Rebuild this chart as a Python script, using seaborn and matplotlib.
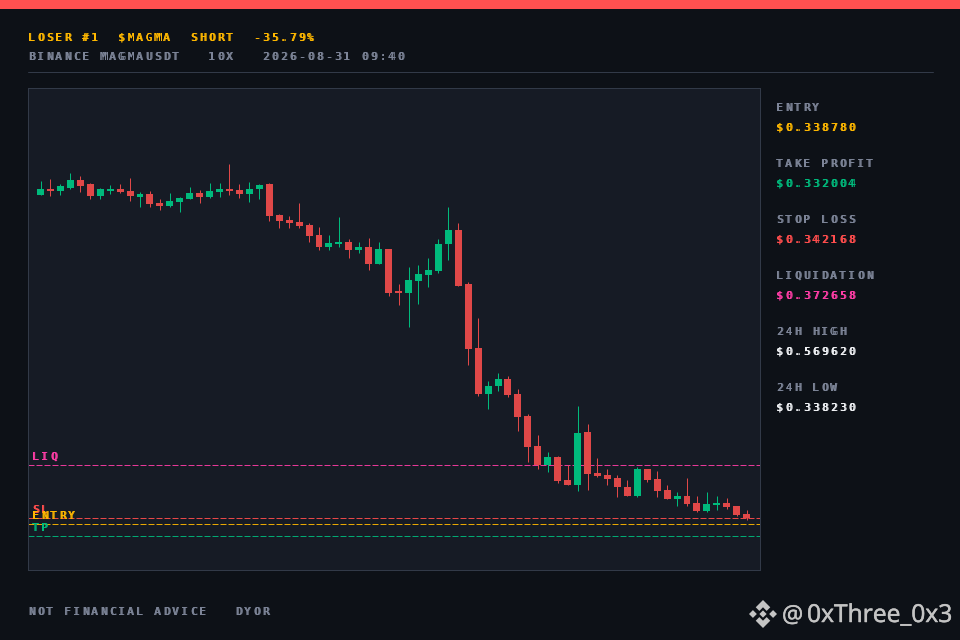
import matplotlib
matplotlib.use('Agg')
import matplotlib.pyplot as plt
import matplotlib.patheffects as pe
from matplotlib.lines import Line2D
from matplotlib.patches import Polygon, Rectangle
from matplotlib.text import Text
from matplotlib.transforms import Bbox, IdentityTransform, offset_copy
import pandas as pd
import seaborn as sns

opens = [.5279, .5314, .5302, .5319, .5365, .5342, .5273, .5302, .5314, .5302, .5268, .5285,
         .5233, .5216, .5239, .5256, .5291, .5268, .5296, .5314, .5308, .5285, .5314, .5342,
         .5164, .5136, .5124, .5107, .5050, .4981, .4998, .5009, .4964, .4981, .4883, .4969,
         .4728, .4717, .4785, .4820, .4843, .4998, .5078, .4768, .4401, .4137, .4183, .4223,
         .4137, .4011, .3838, .3729, .3775, .3643, .3614, .3919, .3683, .3672, .3655, .3603,
         .3551, .3706, .3649, .3586, .3534, .3551, .3511, .3465, .3500, .3511, .3494, .3448]
highs = [.5359, .5371, .5342, .5405, .5388, .5348, .5319, .5336, .5342, .5377, .5296, .5302,
         .5256, .5291, .5268, .5325, .5308, .5348, .5348, .5457, .5342, .5354, .5342, .5348,
         .5170, .5159, .5233, .5118, .5095, .5050, .5153, .5027, .5009, .5032, .5009, .4969,
         .4768, .4866, .4877, .4918, .5027, .5210, .5118, .4780, .4573, .4211, .4257, .4240,
         .4165, .4022, .3901, .3804, .3781, .3729, .4068, .3965, .3770, .3706, .3672, .3643,
         .3718, .3706, .3695, .3614, .3574, .3655, .3551, .3574, .3551, .3540, .3494, .3471]
lows = [.5279, .5273, .5279, .5314, .5296, .5256, .5256, .5285, .5291, .5245, .5210, .5210,
        .5193, .5210, .5182, .5256, .5233, .5262, .5268, .5279, .5262, .5239, .5256, .5130,
        .5090, .5090, .5090, .5009, .4964, .4964, .4981, .4918, .4946, .4849, .4883, .4699,
        .4648, .4522, .4653, .4751, .4831, .4906, .4757, .4303, .4125, .4051, .4154, .4120,
        .3925, .3747, .3706, .3689, .3626, .3614, .3580, .3586, .3660, .3614, .3546, .3551,
        .3546, .3632, .3546, .3534, .3494, .3494, .3460, .3460, .3471, .3477, .3437, .3414]
closes = [.5314, .5302, .5331, .5365, .5331, .5273, .5314, .5314, .5296, .5273, .5285, .5227,
          .5216, .5245, .5262, .5291, .5268, .5302, .5314, .5302, .5285, .5314, .5336, .5159,
          .5130, .5118, .5101, .5044, .4981, .5004, .5009, .4964, .4981, .4883, .4969, .4717,
          .4717, .4791, .4826, .4849, .4998, .5078, .4757, .4395, .4137, .4183, .4223, .4131,
          .4005, .3833, .3729, .3775, .3637, .3614, .3913, .3678, .3666, .3649, .3603, .3551,
          .3706, .3643, .3580, .3534, .3551, .3506, .3465, .3506, .3511, .3488, .3442, .3423]

levels = {"LIQ": 0.372658, "SL": 0.342168, "ENTRY": 0.338780, "TP": 0.332004}
side_labels = ["ENTRY", "TAKE PROFIT", "STOP LOSS", "LIQUIDATION", "24H HIGH", "24H LOW"]
side_values = ["$0.338780", "$0.332004", "$0.342168", "$0.372658", "$0.569620", "$0.338230"]

BG = "#0d1117"
PANEL = "#161b25"
EDGE = "#323a48"
GREY = "#7d8598"
YELLOW = "#ffb800"
GREEN = "#00ba7c"
RED = "#e04848"
SL_RED = "#ff4d4d"
PINK = "#ff3da6"
WHITE = "#f0f2f5"
level_colors = {"LIQ": PINK, "SL": SL_RED, "ENTRY": YELLOW, "TP": GREEN}
side_colors = [YELLOW, GREEN, SL_RED, PINK, WHITE, WHITE]


class TrackedText(Text):
    # matplotlib has no letter spacing, so lay out the string one glyph per advance
    def __init__(self, *args, advance=9.0, **kwargs):
        super().__init__(*args, parse_math=False, **kwargs)
        self.advance = advance

    def draw(self, renderer):
        x0, y0 = self.get_transform().transform(self.get_position())
        stamp = Text(color=self.get_color(), fontproperties=self.get_fontproperties(),
                     ha="left", va="baseline", parse_math=False,
                     transform=IdentityTransform())
        stamp.set_figure(self.get_figure())
        for i, ch in enumerate(self.get_text()):
            if ch == " ":
                continue
            stamp.set_text(ch)
            # repeated passes give the chunky, solid strokes of a bitmap font
            for nudge in (0, 0, 1):
                stamp.set_position((round(x0 + i * self.advance) + nudge, round(y0)))
                stamp.draw(renderer)

    def get_window_extent(self, renderer=None, dpi=None):
        x0, y0 = self.get_transform().transform(self.get_position())
        return Bbox.from_extents(x0, y0, x0 + len(self.get_text()) * self.advance, y0 + 8)


sns.set_theme(style="dark", rc={"figure.facecolor": BG, "axes.facecolor": PANEL})
plt.rcParams["font.family"] = ["DejaVu Sans Mono", "DejaVu Sans"]

fig = plt.figure(figsize=(9.6, 6.4), dpi=100)
ax = fig.add_axes([28 / 960, 70 / 640, 732 / 960, 482 / 640])

df = pd.DataFrame({"idx": range(len(opens)), "open": opens, "high": highs, "low": lows, "close": closes})
df["bottom"] = df[["open", "close"]].min(axis=1)
df["height"] = (df["close"] - df["open"]).abs()
df["up"] = df["close"] > df["open"]

for name, price in levels.items():
    ax.axhline(price, color=level_colors[name], lw=0.72, dashes=(6, 2), alpha=0.9, zorder=1)

ax.vlines(df["idx"], df["low"], df["high"], colors=df["up"].map({True: GREEN, False: RED}),
          lw=0.72, snap=True, zorder=2)
for up, color in [(True, GREEN), (False, RED)]:
    part = df[df["up"] == up]
    sns.barplot(data=part, x="idx", y="height", bottom=part["bottom"], color=color, saturation=1,
                width=0.7, native_scale=True, errorbar=None, linewidth=0, ax=ax, zorder=3)

ax.set_xlim(-1.26, 72.34)
ax.set_ylim(0.31260, 0.58927)
ax.set_xticks([])
ax.set_yticks([])
ax.set_xlabel("")
ax.set_ylabel("")
for spine in ax.spines.values():
    spine.set_visible(True)
    spine.set_color(EDGE)
    spine.set_linewidth(0.72)


def header_text(x, y, s, color):
    # x, y are pixels from the top left of the canvas, y on the baseline
    fig.add_artist(TrackedText(x / 960, 1 - y / 640, s, color=color, fontsize=7.6,
                               transform=fig.transFigure))


header_text(28, 41, "LOSER #1  $MAGMA  SHORT  -35.79%", YELLOW)
header_text(28, 59.5, "BINANCE MAGMAUSDT   10X   2026-08-31 09:40", GREY)
header_text(28, 615, "NOT FINANCIAL ADVICE   DYOR", GREY)
for i, (label, value) in enumerate(zip(side_labels, side_values)):
    header_text(776, 111 + 56 * i, label, GREY)
    header_text(776, 131 + 56 * i, value, side_colors[i])

for name, price in levels.items():
    trans = offset_copy(ax.get_yaxis_transform(), fig=fig, x=4, y=5.5, units="dots")
    ax.add_artist(TrackedText(0, price, name, color=level_colors[name], fontsize=7.6,
                              transform=trans, zorder=4))

fig.add_artist(Rectangle((0, 1 - 9 / 640), 1, 9 / 640, transform=fig.transFigure, color="#ff5050", lw=0))
fig.add_artist(Line2D([28 / 960, 933 / 960], [1 - 72 / 640] * 2, color=EDGE, lw=0.72, transform=fig.transFigure))

# exchange mark next to the handle
cx, cy, r = 763, 614, 14
logo_parts = [
    [(-1, 0), (-.72, -.28), (-.44, 0), (-.72, .28)],
    [(1, 0), (.72, -.28), (.44, 0), (.72, .28)],
    [(0, -.26), (.26, 0), (0, .26), (-.26, 0)],
    [(0, -1), (.52, -.48), (.26, -.22), (0, -.48), (-.26, -.22), (-.52, -.48)],
    [(0, 1), (.52, .48), (.26, .22), (0, .48), (-.26, .22), (-.52, .48)],
]
for part in logo_parts:
    pts = [((cx + r * px) / 960, 1 - (cy + r * py) / 640) for px, py in part]
    fig.add_artist(Polygon(pts, closed=True, transform=fig.transFigure, color="#c4c4c4", lw=0))
thicker = [pe.withStroke(linewidth=0.35, foreground="#c4c4c4")]
fig.text(782 / 960, 1 - 622 / 640, "@", color="#c4c4c4", fontsize=17, family="Open Sans", va="baseline",
         path_effects=thicker)
fig.text(807 / 960, 1 - 622 / 640, "0xThree_0x3", color="#c4c4c4", fontsize=17.75, family="Open Sans", va="baseline",
         path_effects=thicker)

plt.savefig("out.png", dpi=100, facecolor=BG)
plt.close()
